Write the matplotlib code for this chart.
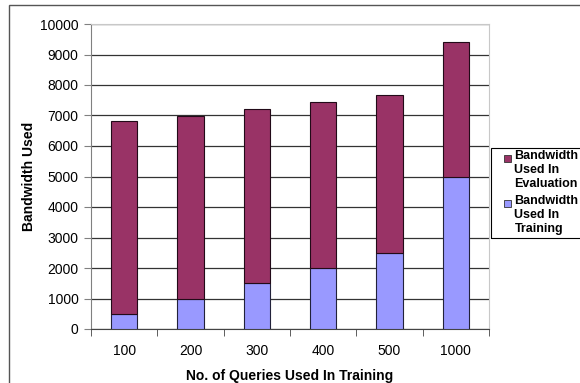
import numpy as np
import matplotlib
matplotlib.use("Agg")
import matplotlib.pyplot as plt
from matplotlib.patches import Rectangle

plt.rcParams['font.family'] = ['Liberation Sans', 'DejaVu Sans']

queries = ['100', '200', '300', '400', '500', '1000']
training = [500, 1000, 1500, 2000, 2500, 5000]
evaluation = [6310, 5970, 5700, 5450, 5180, 4400]

series_names = ['Bandwidth\nUsed In\nEvaluation', 'Bandwidth\nUsed In\nTraining']
series_colors = ['#993366', '#9999ff']

fig = plt.figure(figsize=(5.8, 3.83), dpi=100)
ax = fig.add_axes([91 / 580, 54 / 383, 398 / 580, 305 / 383])

x = np.arange(len(queries))
ax.bar(x, training, width=0.4, color=series_colors[1], edgecolor='#22223a', linewidth=0.8, zorder=3)
ax.bar(x, evaluation, width=0.4, bottom=training, color=series_colors[0], edgecolor='#220a18',
       linewidth=0.8, zorder=3)

ax.set_xlim(-0.5, len(queries) - 0.5)
ax.set_ylim(0, 10000)
ax.set_yticks(np.arange(0, 10001, 1000))
ax.yaxis.grid(True, color='#333333', linewidth=0.9)
ax.set_axisbelow(True)

# category labels in the middle, tick marks between categories
ax.set_xticks(x)
ax.set_xticklabels(queries)
ax.set_xticks(np.arange(-0.5, len(queries)), minor=True)
ax.tick_params(axis='x', which='major', length=0, pad=11, labelsize=10)
ax.tick_params(axis='x', which='minor', length=5, direction='out', color='#444444')
ax.tick_params(axis='y', length=5, direction='out', color='#808080', labelsize=10, pad=4)

ax.spines['left'].set_color('#808080')
ax.spines['bottom'].set_color('#444444')
for s in ['top', 'right']:
    ax.spines[s].set_color('#c8c8c8')

ax.set_xlabel('No. of Queries Used In Training', fontsize=10, fontweight='bold', labelpad=8)
ax.set_ylabel('Bandwidth Used', fontsize=10, fontweight='bold', labelpad=3)

# legend box drawn by hand, marker beside the first line of each entry
W, H = 580, 383
fig.patches.append(Rectangle((491 / W, 1 - 238 / H), 0.2, 90 / H, transform=fig.transFigure,
                             fill=False, edgecolor='#000000', linewidth=0.8))
for i, (name, col) in enumerate(zip(series_names, series_colors)):
    top = 150 + i * 44.5
    fig.patches.append(Rectangle((504 / W, 1 - (top + 12) / H), 7 / W, 7 / H,
                                 transform=fig.transFigure, facecolor=col,
                                 edgecolor='#333333', linewidth=0.6))
    fig.text(514.5 / W, 1 - top / H, name, fontsize=9, fontweight='bold',
             va='top', ha='left', linespacing=1.25)

# outer chart border
fig.patches.append(Rectangle((9 / W, -0.1), 1.2, 0.1 + (H - 5) / H,
                             transform=fig.transFigure, fill=False,
                             edgecolor='#555555', linewidth=1.0))

fig.savefig('out.png', dpi=100)
